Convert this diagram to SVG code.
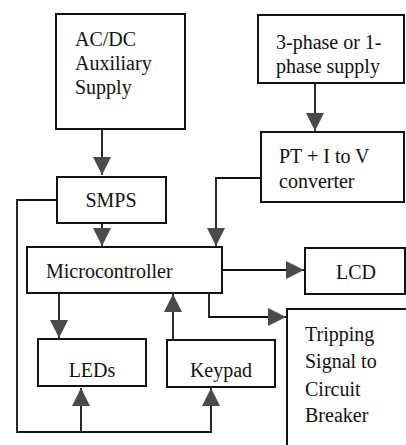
<svg xmlns="http://www.w3.org/2000/svg" width="406" height="445" viewBox="0 0 406 445">
<style>
.box{fill:#fff;stroke:#111;stroke-width:2}
.t{font-family:"Liberation Serif","Times New Roman",serif;font-size:20px;fill:#111}
.c{text-anchor:middle}
.ln{fill:none;stroke:#111;stroke-width:1.8}
</style>
<defs>
<marker id="ah" markerUnits="userSpaceOnUse" markerWidth="18" markerHeight="18" viewBox="0 0 18 18" refX="18" refY="9" orient="auto">
<path d="M0,0 L18,9 L0,18 Z" fill="#4a4a4a"/>
</marker>
</defs>
<rect width="406" height="445" fill="#fff"/>
<g id="connectors">
<path class="ln" d="M102,129 V175" marker-end="url(#ah)"/>
<path class="ln" d="M315,83 V131" marker-end="url(#ah)"/>
<path class="ln" d="M102,223 V246" marker-end="url(#ah)"/>
<path class="ln" d="M261,178 H216 V246" marker-end="url(#ah)"/>
<path class="ln" d="M222,270 H304" marker-end="url(#ah)"/>
<path class="ln" d="M209,293 V317 H286" marker-end="url(#ah)"/>
<path class="ln" d="M59,293 V338" marker-end="url(#ah)"/>
<path class="ln" d="M173,339 V294" marker-end="url(#ah)"/>
<path class="ln" d="M57,200 H17 V432 H211 V388" marker-end="url(#ah)"/>
<path class="ln" d="M81,432 V388" marker-end="url(#ah)"/>
</g>
<g id="acdc">
<rect class="box" x="56" y="14" width="129" height="115"/>
<text class="t" x="75" y="46">AC/DC</text>
<text class="t" x="75" y="70">Auxiliary</text>
<text class="t" x="75" y="94">Supply</text>
</g>
<g id="phase">
<rect class="box" x="258" y="15" width="146" height="68"/>
<text class="t" x="276" y="49">3-phase or 1-</text>
<text class="t" x="276" y="73">phase supply</text>
</g>
<g id="pt">
<rect class="box" x="261" y="132" width="143" height="70"/>
<text class="t" x="279" y="163">PT + I to V</text>
<text class="t" x="279" y="188">converter</text>
</g>
<g id="smps">
<rect class="box" x="57" y="177" width="109" height="46"/>
<text class="t c" x="111" y="207">SMPS</text>
</g>
<g id="micro">
<rect class="box" x="27" y="247" width="195" height="46"/>
<text class="t" x="46" y="278">Microcontroller</text>
</g>
<g id="lcd">
<rect class="box" x="305" y="248" width="100" height="46"/>
<text class="t c" x="356" y="279">LCD</text>
</g>
<g id="leds">
<rect class="box" x="38" y="339" width="108" height="47"/>
<text class="t c" x="92" y="377">LEDs</text>
</g>
<g id="keypad">
<rect class="box" x="167" y="340" width="108" height="47"/>
<text class="t c" x="221" y="377">Keypad</text>
</g>
<g id="trip">
<rect class="box" x="287" y="309" width="125" height="145"/>
<text class="t" x="305" y="341">Tripping</text>
<text class="t" x="305" y="368">Signal to</text>
<text class="t" x="305" y="396">Circuit</text>
<text class="t" x="305" y="422">Breaker</text>
</g>
</svg>
